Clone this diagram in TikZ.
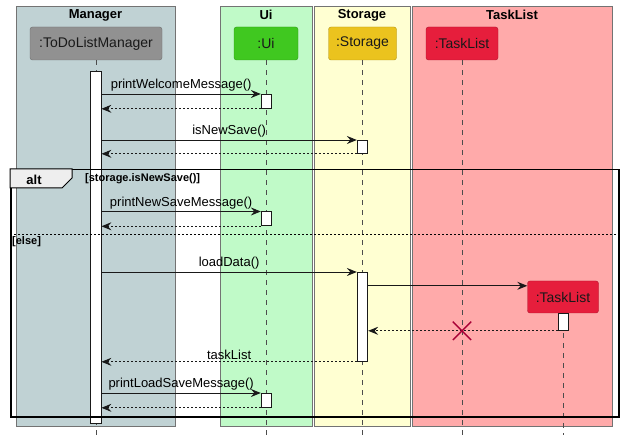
\documentclass[tikz,border=0pt]{standalone}
\usepackage{fontspec}
\setmainfont{Liberation Sans}
\usepackage{tikz}
\usetikzlibrary{arrows.meta, positioning, calc, shapes.misc}
\definecolor{mgr_bg}{HTML}{C0D2D4}
\definecolor{ui_bg}{HTML}{C0FAC8}
\definecolor{st_bg}{HTML}{FFFFD2}
\definecolor{tl_bg}{HTML}{FFAAAA}
\definecolor{mgr_fill}{HTML}{919191}
\definecolor{ui_fill}{HTML}{40C820}
\definecolor{st_fill}{HTML}{EBC31E}
\definecolor{tl_fill}{HTML}{E61E3C}
\definecolor{cross_red}{HTML}{A80036}
\definecolor{tab_gray}{HTML}{EEEEEE}
\tikzset{
  lane_box/.style={rectangle, draw=gray!90!black, fill=#1, inner sep=0pt, anchor=north west, minimum height=420pt},
  lane_title/.style={font=\fontsize{13pt}{15pt}\selectfont\bfseries},
  participant/.style={rectangle, draw=#1!75!black, fill=#1, rounded corners=2.5pt, minimum height=33pt, inner sep=0pt, text=black!90, font=\fontsize{14pt}{16pt}\selectfont},
  act_bar/.style={rectangle, draw=black!90, fill=white, minimum width=10.5pt, inner sep=0pt, anchor=north, line width=0.8pt},
  life_line/.style={draw=gray!60!black, dash pattern=on 5pt off 5pt, line width=0.8pt},
  msg/.style={-{Stealth[length=10pt, width=8pt, inset=3.5pt]}, draw=black!90, line width=0.9pt},
  reply/.style={msg, dash pattern=on 2pt off 2pt},
  msg_label/.style={above, inner sep=2pt},
  frame_box/.style={rectangle, draw=black, line width=1.5pt, inner sep=0pt, anchor=north west},
  frame_tab/.style={draw=black, fill=tab_gray, line width=1pt},
  guard_text/.style={font=\fontsize{11pt}{13pt}\selectfont\bfseries, inner sep=0pt, anchor=west},
  else_line/.style={draw=black, dash pattern=on 2pt off 2pt, line width=0.8pt},
  destroy_mark/.style={cross out, draw=cross_red, line width=1.4pt, minimum size=17pt, inner sep=0pt}
}

\begin{document}
\begin{tikzpicture}[x=1pt, y=-1pt, font=\fontsize{13pt}{15pt}\selectfont]
    \useasboundingbox (0,0) rectangle (624,438);

    % swim lanes and their titles
    \node[lane_box=mgr_bg, minimum width=159pt] (mgr_lane) at (16,6) {};
    \node[lane_box=ui_bg, minimum width=92pt] (ui_lane) at (220,6) {};
    \node[lane_box=st_bg, minimum width=96pt] (st_lane) at (314,6) {};
    \node[lane_box=tl_bg, minimum width=200pt] (tl_lane) at (412,6) {};
    \node[lane_title] (mgr_title) at (95.5,15) {Manager};
    \node[lane_title] (ui_title) at (266,15) {Ui};
    \node[lane_title] (st_title) at (362,15) {Storage};
    \node[lane_title] (tl_title) at (512,15) {TaskList};

    % participants
    \node[participant=mgr_fill, minimum width=132pt] (mgr) at (96,43.5) {:ToDoListManager};
    \node[participant=ui_fill, minimum width=64pt] (ui) at (266,43.5) {:Ui};
    \node[participant=st_fill, minimum width=68pt] (st) at (362.5,43.5) {:Storage};
    \node[participant=tl_fill, minimum width=72pt] (tl) at (462,43.5) {:TaskList};
    \node[participant=tl_fill, minimum width=71pt, minimum height=32pt] (tl2) at (563,297) {:TaskList};

    % lifelines
    \coordinate (life_end) at (0,435);
    \draw[life_line] (mgr.south) -- (mgr.south |- life_end);
    \draw[life_line] (ui.south) -- (ui.south |- life_end);
    \draw[life_line] (st.south) -- (st.south |- life_end);
    \draw[life_line] (tl.south) -- (tl.south |- life_end);
    \draw[life_line] (tl2.south) -- (tl2.south |- life_end);

    % activation bars
    \node[act_bar, minimum width=11pt, minimum height=352pt] (mgr_act) at (95.5,71) {};
    \node[act_bar, minimum height=14pt] (ui_act1) at (266.5,94) {};
    \node[act_bar, minimum height=13pt] (st_act1) at (362.5,140) {};
    \node[act_bar, minimum height=14pt] (ui_act2) at (266.5,211.5) {};
    \node[act_bar, minimum height=89pt] (st_act2) at (362.5,272) {};
    \node[act_bar, minimum height=17pt] (tl2_act) at (563.5,313) {};
    \node[act_bar, minimum height=14pt] (ui_act3) at (266.5,393) {};

    % messages
    \draw[msg] (mgr_act.east |- ui_act1.north) -- node[msg_label]{printWelcomeMessage()} (ui_act1.north west);
    \draw[reply] (ui_act1.south west) -- (ui_act1.south west -| mgr_act.east);
    \draw[msg] (mgr_act.east |- st_act1.north) -- node[msg_label]{isNewSave()} (st_act1.north west);
    \draw[reply] (st_act1.south west) -- (st_act1.south west -| mgr_act.east);

    \draw[msg] (mgr_act.east |- ui_act2.north) -- node[msg_label]{printNewSaveMessage()} (ui_act2.north west);
    \draw[reply] (ui_act2.south west) -- (ui_act2.south west -| mgr_act.east);

    \draw[msg] (mgr_act.east |- st_act2.north) -- node[msg_label]{loadData()} (st_act2.north west);
    \coordinate (create_pt) at ([yshift=-5pt]tl2.north west);
    \draw[msg] (st_act2.east |- create_pt) -- (create_pt);
    \draw[reply] (tl2_act.south west) -- (tl2_act.south west -| st_act2.east);
    \node[destroy_mark] (tl_end) at (tl.south |- tl2_act.south) {};
    \draw[reply] (st_act2.south west) -- node[msg_label]{taskList} (st_act2.south west -| mgr_act.east);

    \draw[msg] (mgr_act.east |- ui_act3.north) -- node[msg_label]{printLoadSaveMessage()} (ui_act3.north west);
    \draw[reply] (ui_act3.south west) -- (ui_act3.south west -| mgr_act.east);

    % alt frame
    \node[frame_box, minimum width=608pt, minimum height=247pt] (alt_box) at (10,169) {};
    \draw[frame_tab] (alt_box.north west) -- ++(62,0) -- ++(0,9) -- ++(-10,10) -- ++(-52,0) -- cycle;
    \node[font=\fontsize{13pt}{15pt}\selectfont\bfseries, inner sep=0pt] (alt_label) at (34,180) {alt};
    \node[guard_text] (alt_guard) at (85,178.5) {[storage.isNewSave()]};
    \coordinate (else_y) at (0,234);
    \draw[else_line] (alt_box.west |- else_y) -- (alt_box.east |- else_y);
    \node[guard_text] (else_guard) at (12,242) {[else]};
\end{tikzpicture}
\end{document}
